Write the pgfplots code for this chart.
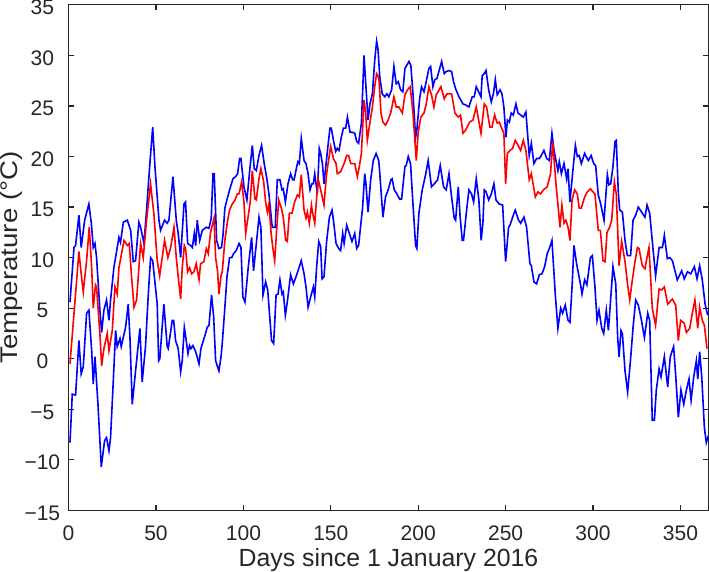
\documentclass[border=0pt]{standalone}
\usepackage{pgfplots}
\pgfplotsset{compat=1.18}
\usepackage{graphicx}
\usepackage{fontspec}
\setmainfont{Liberation Sans}
\definecolor{axgray}{RGB}{38,38,38}
\begin{document}
\begin{tikzpicture}
\begin{axis}[
  scale only axis,
  width=319.35pt, height=252.35pt,
  xmin=0, xmax=366, ymin=-15, ymax=35,
  xtick={0,50,...,350}, ytick={-15,-10,...,35},
  yticklabels={−15,−10,−5,0,5,10,15,20,25,30,35},
  tick align=inside,
  major tick length=2.6pt,
  axis line style={axgray, line width=0.6pt},
  tick style={axgray, line width=0.6pt},
  every tick label/.append style={font=\fontsize{10.5}{12}\selectfont, text=axgray, inner sep=0pt},
  xticklabel style={anchor=center, yshift=-11.5pt},
  yticklabel style={anchor=center, xshift=-13.1pt, yshift=-1.3pt},
  /pgf/number format/assume math mode=true,
  xlabel={Days since 1 January 2016},
  ylabel={\scalebox{1.15}[1]{Temperature (°C)}},
  every axis x label/.style={at={(axis description cs:0.5,-0.111)}, anchor=base, inner sep=0pt, font=\fontsize{12.4}{14}\selectfont, text=axgray},
  every axis y label/.style={at={(axis description cs:-0.0897,0.5)}, anchor=center, rotate=90, inner sep=0pt, font=\fontsize{12}{14}\selectfont, text=axgray},
  clip=true,
]
% daily maximum
\addplot[blue, line width=0.8pt] coordinates {
(0.8,5.6)(3.1,11)(4.0,11.2)(5.9,14.2)(7.2,11)(9.2,13.7)(11.6,15.3)(13.0,13.4)(14.1,11)(15.1,11.4)(16.0,10)
(17.9,4.8)(18.9,2.6)(20.2,4.8)(21.7,5.8)(23.1,3.8)(24.0,5.8)(25.9,9)(28.8,12)(29.7,11.5)(31.3,13.5)(33.6,13.7)
(35.5,12.7)(37.0,9.6)(38.3,9.7)(40.2,13.5)(41.2,13)(43.1,11.4)(44.6,14.7)(46.5,19.3)(48.1,22.9)(49.4,19)
(51.7,13.7)(52.6,12.7)(54.9,13.7)(56.4,13.4)(57.4,13.7)(59.7,18)(61.6,13.7)(62.7,12.4)(64.1,10)(66.0,15.3)
(66.9,15.5)(68.1,11.4)(69.8,11.2)(70.8,11)(71.9,12.4)(72.7,11.2)(73.6,13.7)(75.0,11.7)(76.5,12.7)(78.8,13)
(80.3,12.9)(81.6,13.9)(82.6,18.3)(83.3,18.3)(84.7,11.7)(86.0,10.9)(87.5,11)(88.3,12.2)(89.4,14.9)(91.0,16)
(92.1,16.7)(94.0,17.8)(95.5,18)(96.7,18.3)(97.8,19.8)(98.6,19.8)(100.3,17)(102.0,15.7)(103.6,18.6)(105.1,21.1)
(106.2,18.8)(107.4,18.6)(108.9,20.1)(110.4,21.1)(111.9,19.3)(113.5,17.7)(114.6,16.3)(116.5,13)(118.2,13)
(119.4,17.7)(120.9,17.7)(122.1,16.7)(122.8,16.8)(124.0,15.5)(125.5,17.3)(127.0,18.3)(128.2,17.7)(129.0,17.7)
(130.5,19)(131.2,19.5)(132.0,19.3)(133.1,21.8)(134.7,19.6)(135.8,19.3)(137.0,18.3)(138.1,16.7)(139.2,17.3)
(140.0,17.3)(140.8,18.3)(142.3,16.3)(143.4,20.8)(144.2,20.3)(145.2,19.3)(146.1,17.3)(147.3,19.3)(148.4,21.1)
(149.5,22.8)(150.3,22.8)(151.5,21.6)(152.8,20.5)(153.7,20.8)(154.7,20.6)(156.0,21.9)(157.2,22.8)(158.5,22.8)
(159.5,23.9)(161.0,22.4)(162.3,22.4)(163.7,22.3)(164.8,21.5)(165.9,21.3)(167.5,23.3)(169.0,30)(170.1,26.9)
(171.3,23.6)(172.4,25.2)(173.8,26.2)(175.1,29.5)(176.2,31.4)(177.0,30.6)(178.0,27.9)(179.4,26.2)(180.9,25.9)
(182.1,26.2)(183.2,25.9)(184.8,26.6)(186.1,28.9)(187.4,27.2)(188.6,27.4)(189.9,26.6)(191.2,26.4)(192.4,28.7)
(194.7,29.4)(195.8,29)(197.0,26.2)(198.5,21.9)(199.2,22.6)(200.8,25.7)(201.9,26.9)(203.3,26.4)(204.2,27.1)
(206.1,28.7)(207.1,28.9)(208.4,26.9)(209.5,27.6)(210.7,27.7)(213.4,29.4)(214.9,28.2)(216.0,28.4)(217.6,28.5)
(219.1,28.4)(220.2,27.4)(221.4,26.7)(223.3,25.9)(225.6,25.2)(227.1,25.1)(229.0,24.9)(230.9,25.9)(232.0,25.9)
(233.2,26.9)(235.1,26.2)(235.9,25.9)(236.6,28)(237.8,28.2)(238.8,28.5)(240.3,26.6)(241.8,25.4)(243.0,26.2)
(244.1,27.6)(245.2,26.1)(246.8,26.6)(247.9,26.2)(249.0,24.9)(250.2,21.9)(251.0,23.6)(252.1,23.4)(253.2,24.3)
(254.4,24.1)(255.9,25.2)(257.1,24.3)(258.6,24.1)(260.1,23.9)(261.6,24.4)(263.5,20.1)(264.7,21.3)(266.2,19.3)
(267.7,19.8)(269.3,19.8)(270.4,20.1)(271.9,20.6)(273.5,19.8)(275.0,19.6)(276.5,22.3)(277.7,20.6)(279.9,18.6)
(280.7,19.5)(281.9,18.3)(283.4,19.3)(284.9,17.8)(285.7,18.8)(286.8,15.5)(288.3,18.3)(289.9,21.1)(291.0,20)
(292.1,20.1)(293.3,19.3)(295.2,20.3)(297.3,19.6)(298.9,20.1)(300.4,19.3)(301.5,19.1)(303.0,16.2)(304.4,15.3)
(306.3,13.7)(308.2,18.2)(309.1,17.2)(310.1,17.3)(311.4,19)(312.6,21.5)(313.3,21.6)(314.5,16.3)(315.3,14.7)
(316.8,14.5)(318.3,11.7)(319.6,10.2)(321.5,10.2)(322.9,13.7)(324.4,14.2)(325.9,15)(327.8,14.5)(329.7,14)
(330.9,15.2)(332.4,14.4)(334.3,10.9)(335.8,8.2)(337.8,11)(339.7,11)(340.8,12.2)(342.5,9.9)(343.9,10)
(345.4,9.7)(348.2,7.8)(350.7,8.7)(352.2,7.9)(354.0,8.6)(355.9,8.4)(358.0,9.1)(359.5,7.9)(361.0,9.2)
(362.5,7.8)(364.1,5.4)(365.6,4.3)
};
% daily mean
\addplot[red, line width=0.8pt] coordinates {
(0.8,-0.5)(3.1,4.5)(5.9,10.6)(7.2,8.4)(8.4,6.6)(10.3,9.7)(11.8,13)(13.2,9)(14.1,5)(15.4,7.3)(16.0,7.1)
(17.9,2.5)(18.9,-0.7)(20.2,1)(22.1,2.5)(23.1,0.8)(25.0,2.8)(26.5,7.1)(27.8,6.4)(28.8,9)(31.7,11.7)(33.6,11.2)
(34.7,11.4)(35.9,8.4)(37.4,5.1)(38.9,5.8)(41.2,11.4)(42.7,10)(44.6,13.7)(46.9,17.3)(48.8,14.3)(50.7,9.7)
(52.1,8.2)(54.9,11.7)(56.8,10)(58.4,11)(60.3,13)(61.6,10)(62.7,8.1)(64.1,5.9)(65.0,9)(66.2,11.2)(66.9,10.9)
(68.1,8.6)(69.2,9)(70.4,8.4)(71.7,8.6)(73.0,9.4)(74.6,7.8)(75.5,9.4)(77.4,9.6)(78.8,10.9)(79.9,10.4)(81.2,12.5)
(83.2,13.9)(84.1,10)(85.2,8.7)(86.0,6.4)(87.2,8.2)(87.9,8.6)(89.4,11.7)(90.8,13.5)(92.1,14.7)(93.6,15.3)
(95.2,15.7)(96.5,16.3)(97.5,16.3)(99.0,17.5)(100.3,15.5)(101.3,12.4)(102.4,13.7)(103.9,15.5)(105.1,18.6)
(106.6,15.8)(107.4,15.7)(108.9,17.8)(110.0,18.8)(111.6,17.5)(112.7,15.5)(113.7,14.5)(114.6,15.3)(115.8,12.5)
(116.8,11)(117.9,9.7)(119.0,12.7)(120.2,15.7)(121.7,14.9)(122.8,14)(124.2,11.7)(125.1,11.6)(126.3,14.4)
(127.8,14.4)(129.3,15.5)(130.9,16.2)(132.0,16)(133.1,18.2)(134.7,14.7)(135.8,13.9)(136.6,14.5)(137.7,13.4)
(138.9,15.2)(139.6,14.4)(140.8,13.4)(142.7,17.8)(144.2,16.7)(146.1,15.2)(147.6,18.3)(149.9,21)(151.5,19.8)
(153.0,19.3)(153.7,18.3)(155.6,18.5)(157.6,19.3)(159.1,20.1)(160.2,20.1)(161.4,19.3)(163.7,19.3)(165.2,18)
(166.3,19)(167.5,20.3)(169.0,25.6)(169.9,24.4)(170.9,21.6)(172.0,22.9)(173.8,24.9)(175.1,26.9)(176.2,28.2)
(177.0,28)(177.6,27.5)(178.7,24.3)(179.8,23.4)(181.3,23.1)(182.8,23.6)(184.4,24.4)(186.1,25.9)(187.4,24.9)
(188.9,24.9)(190.9,24.3)(192.4,26.1)(193.9,26.6)(195.4,26.9)(197.0,24.3)(198.9,19.6)(200.0,22.4)(201.5,23.9)
(203.3,24.3)(204.6,25.2)(206.1,26.9)(207.6,26.1)(209.0,24.9)(210.3,26.1)(213.0,26.9)(214.9,25.7)(216.4,26.2)
(219.1,26.2)(221.0,24.3)(222.9,23.9)(224.2,24.1)(225.6,22.3)(227.1,22.6)(229.4,23.4)(231.3,23.6)(233.2,24.9)
(235.9,22.3)(237.8,25.2)(239.1,24.9)(241.0,22.9)(242.2,22.9)(243.7,24.1)(245.2,23.3)(246.4,23.4)(247.5,22.9)
(249.0,22.3)(250.0,17.3)(251.0,20.3)(252.5,20.6)(254.0,20.8)(255.5,21.6)(257.1,21.1)(258.6,20.6)(260.1,21.6)
(261.6,20.6)(263.5,17.7)(264.7,18.3)(267.0,16)(268.5,16.5)(270.0,16.3)(271.6,16.7)(273.8,17)(275.7,18.3)
(276.9,21.5)(278.8,17.3)(279.9,15.3)(281.1,13)(282.2,15.2)(283.4,13.4)(284.5,13.7)(285.7,13)(286.8,11.7)
(288.0,15.7)(289.5,16.7)(291.0,16.3)(292.1,14.9)(293.3,14.9)(295.2,16)(296.7,16.5)(298.5,16.8)(300.0,16.5)
(301.1,16.3)(303.0,12.7)(304.2,12.7)(305.7,9.7)(306.9,9.6)(308.0,12.5)(309.5,13)(310.7,13.7)(312.2,17.5)
(313.3,16.3)(314.9,9.2)(316.4,11.6)(318.3,9.6)(319.8,7.3)(321.0,5.8)(322.5,7.8)(324.0,9.6)(325.4,11)
(326.3,10.9)(328.2,9.2)(329.7,8.9)(331.3,10.4)(332.0,11)(333.9,5)(335.8,3.3)(337.8,6.9)(339.3,6.8)(340.8,7.1)
(342.7,5.4)(345.4,5.9)(347.3,5.3)(348.8,1.8)(350.1,3.8)(352.2,3.5)(353.4,2.6)(355.3,3)(356.8,4.5)(358.3,5.8)
(359.9,3)(361.0,5.1)(362.5,3.8)(363.7,3.3)(365.2,1)
};
% daily minimum
\addplot[blue, line width=0.8pt] coordinates {
(0.8,-8.3)(2.1,-3.5)(4.0,-3.6)(5.9,1.8)(7.2,-1.5)(8.4,-0.8)(10.3,4.5)(11.6,4.8)(13.2,0.8)(14.1,-2.5)(15.1,0.2)
(16.8,-4.5)(18.7,-10.7)(20.6,-8.1)(21.7,-7.8)(23.1,-9.1)(24.0,-7.8)(25.4,-2.8)(26.9,2.8)(27.8,1.2)(29.4,2)
(30.1,1.2)(32.6,3.1)(34.1,5.4)(35.1,2.1)(36.4,-4.5)(38.9,-0.2)(40.8,3)(42.1,-2.3)(44.0,1.2)(45.4,5.8)(46.9,10)
(48.1,9.7)(50.7,5.4)(51.5,-0.2)(52.2,0)(54.5,5.4)(56.4,1.2)(57.0,1)(59.3,3.8)(60.1,3.8)(61.2,1.8)(62.7,1)
(64.1,-1.3)(65.0,-0.2)(66.2,3.1)(67.3,1.8)(68.3,0.5)(69.2,1.3)(70.0,1)(71.1,1.3)(72.7,0.7)(74.6,-0.5)(75.7,1)
(76.9,1.7)(78.0,2.3)(79.3,3.1)(80.3,3.3)(81.8,6.3)(83.0,4.1)(84.1,-0.2)(86.0,-1.2)(87.2,0.2)(87.9,1.5)(89.4,5.1)
(90.6,8.1)(92.1,10)(93.3,10)(94.4,10.4)(95.9,10.7)(97.5,11.4)(98.6,11)(99.7,6.1)(100.9,5.6)(102.8,9.1)
(104.7,12)(105.8,8.7)(107.4,11.4)(108.9,14)(110.0,13)(111.2,6.3)(112.7,7.6)(113.9,6.8)(116.1,1.8)(117.3,1.5)
(118.7,6.3)(119.8,6.4)(120.9,7.8)(122.1,6.4)(122.8,6.6)(124.0,4.3)(125.1,5.6)(127.0,8.3)(128.6,7.4)(130.5,8.3)
(132.0,9.1)(133.1,9.7)(134.7,8.4)(135.8,7.1)(137.0,5.1)(138.9,6.4)(140.0,7.1)(140.8,6.1)(141.9,9.1)(143.1,11.6)
(144.2,11.1)(145.0,7.9)(146.1,8.1)(147.6,11.6)(149.2,14)(150.7,14.7)(151.5,13.7)(153.0,11.4)(154.5,10.9)
(155.6,10.7)(156.8,12.4)(157.6,11.4)(159.1,13.2)(160.6,12.4)(162.1,11.6)(163.7,12.4)(164.8,10.9)(165.9,11.2)
(168.2,15)(169.4,18.3)(170.1,17.3)(171.3,14.5)(172.8,17.7)(174.3,19.6)(175.9,20.3)(177.4,19.6)(177.9,18.6)
(179.8,14)(181.3,16)(182.8,16.7)(184.4,17.7)(185.1,17.8)(186.3,16.7)(187.8,16.3)(189.3,15.8)(190.5,15.8)
(192.4,19)(193.1,19.1)(194.3,20)(195.6,19.3)(197.0,15.3)(198.5,11.2)(199.2,10.9)(200.4,14.4)(202.3,16.7)
(204.2,18.2)(205.7,19.6)(207.6,17)(209.2,17.3)(211.1,17.7)(212.6,19.1)(214.5,17)(216.0,16.7)(217.6,18.3)
(219.1,16)(220.6,13.9)(221.4,13.7)(222.9,17)(224.0,14)(225.2,11.7)(225.9,11.7)(227.5,14.4)(229.0,16.7)
(230.5,16.3)(231.7,15.5)(233.2,17.8)(234.7,15.7)(236.0,11.7)(237.0,13.4)(237.8,16.7)(238.8,16.5)(240.3,15.7)
(241.8,16.3)(243.3,17.3)(244.5,15.7)(246.4,15.3)(248.3,15.2)(250.0,9.6)(251.7,13)(252.5,13.2)(254.0,14)
(255.5,14.7)(257.4,13.7)(258.6,13.4)(260.5,14)(262.0,13)(263.9,9.4)(264.7,9.2)(266.2,7.6)(267.7,7.4)(269.3,8.3)
(270.8,8.4)(272.3,9.1)(273.8,10.4)(275.0,10.9)(276.5,11.7)(278.4,6.4)(279.9,3)(281.5,5)(282.6,4.5)(284.1,5.3)
(285.7,3.8)(286.8,3.6)(288.0,7.1)(289.1,11.2)(290.6,9.4)(292.9,7.3)(293.7,6.4)(295.2,7.8)(296.5,7.3)
(298.5,10)(299.6,10.2)(301.1,7.1)(302.3,3.8)(303.4,4.8)(305.0,3)(306.1,2.5)(307.6,4.8)(308.8,2.8)(310.3,6.4)
(311.4,9.1)(313.0,7.4)(314.1,2.1)(314.9,0.2)(316.0,2.8)(316.8,2.5)(318.3,-1.2)(319.8,-3.3)(321.4,-0.2)
(322.9,3.1)(324.4,5.8)(325.9,5.3)(327.5,4)(329.4,2.1)(331.3,4.5)(332.4,3.8)(333.9,-6.1)(335.1,-6.1)(336.2,-3.1)
(337.8,-1)(338.9,-1.8)(340.8,0.2)(342.7,-2.8)(344.2,0.2)(346.1,1.2)(347.3,-1.7)(348.8,-5.8)(350.3,-3.1)
(351.9,-4.5)(353.4,-3.1)(354.9,-2)(356.1,-4.1)(357.6,-1.8)(359.1,-0.2)(359.9,-2)(361.0,0.7)(362.2,-1.8)
(363.7,-6.8)(364.8,-8.3)(366.0,-7.6)
};
\end{axis}
\end{tikzpicture}
\end{document}
